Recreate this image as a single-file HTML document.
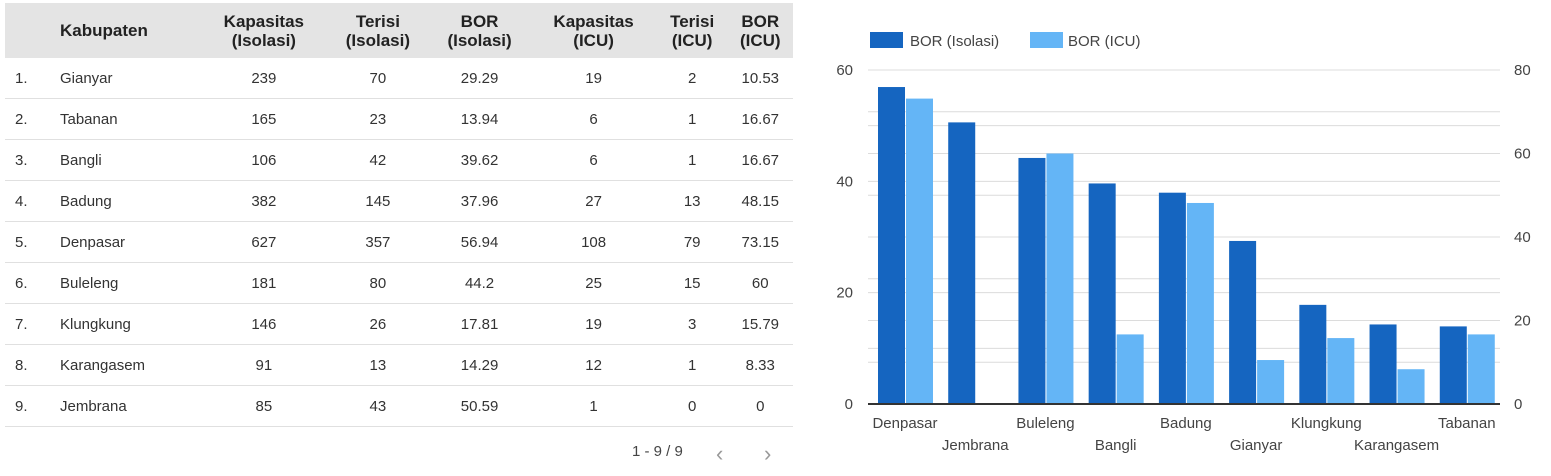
<!DOCTYPE html>
<html><head><meta charset="utf-8"><style>
body{margin:0;width:1551px;height:476px;background:#fff;font-family:"Liberation Sans",sans-serif;color:#333;overflow:hidden;position:relative}
table{position:absolute;left:5px;top:3px;width:788px;border-collapse:collapse;font-size:15px}
th{background:#e4e4e4;font-weight:bold;font-size:17px;height:53px;line-height:19px;color:#222;text-align:center}
td{height:38px;border-bottom:1px solid #e0e0e0;text-align:center;color:#333}
td.n{text-align:left;padding-left:10px;width:36px}
td.k,th.k{text-align:left;padding-left:8px}
#pg{position:absolute;left:632px;top:443px;font-size:15px;color:#444}
.chev{position:absolute;top:441px;font-size:22px;color:#999}
</style></head><body>
<table>
<thead><tr><th style="width:36px"></th><th class="k">Kabupaten</th><th>Kapasitas<br>(Isolasi)</th><th>Terisi<br>(Isolasi)</th><th>BOR<br>(Isolasi)</th><th>Kapasitas<br>(ICU)</th><th>Terisi<br>(ICU)</th><th>BOR<br>(ICU)</th></tr></thead>
<tbody>
<tr><td class="n">1.</td><td class="k">Gianyar</td><td>239</td><td>70</td><td>29.29</td><td>19</td><td>2</td><td>10.53</td></tr>
<tr><td class="n">2.</td><td class="k">Tabanan</td><td>165</td><td>23</td><td>13.94</td><td>6</td><td>1</td><td>16.67</td></tr>
<tr><td class="n">3.</td><td class="k">Bangli</td><td>106</td><td>42</td><td>39.62</td><td>6</td><td>1</td><td>16.67</td></tr>
<tr><td class="n">4.</td><td class="k">Badung</td><td>382</td><td>145</td><td>37.96</td><td>27</td><td>13</td><td>48.15</td></tr>
<tr><td class="n">5.</td><td class="k">Denpasar</td><td>627</td><td>357</td><td>56.94</td><td>108</td><td>79</td><td>73.15</td></tr>
<tr><td class="n">6.</td><td class="k">Buleleng</td><td>181</td><td>80</td><td>44.2</td><td>25</td><td>15</td><td>60</td></tr>
<tr><td class="n">7.</td><td class="k">Klungkung</td><td>146</td><td>26</td><td>17.81</td><td>19</td><td>3</td><td>15.79</td></tr>
<tr><td class="n">8.</td><td class="k">Karangasem</td><td>91</td><td>13</td><td>14.29</td><td>12</td><td>1</td><td>8.33</td></tr>
<tr><td class="n">9.</td><td class="k">Jembrana</td><td>85</td><td>43</td><td>50.59</td><td>1</td><td>0</td><td>0</td></tr>
</tbody></table>
<div id="pg">1 - 9 / 9</div>
<div class="chev" style="left:716px">&#8249;</div>
<div class="chev" style="left:764px">&#8250;</div>
<svg id="chart" width="1551" height="476" style="position:absolute;left:0;top:0"></svg>
<script>
const categories=["Denpasar","Jembrana","Buleleng","Bangli","Badung","Gianyar","Klungkung","Karangasem","Tabanan"];
const borIsolasi=[56.94,50.59,44.2,39.62,37.96,29.29,17.81,14.29,13.94];
const borICU=[73.15,0,60,16.67,48.15,10.53,15.79,8.33,16.67];
const leftTicks=[0,20,40,60];
const rightTicks=[0,20,40,60,80];
const svg=document.getElementById('chart');const NS='http://www.w3.org/2000/svg';
const X0=868,X1=1500,Y0=404,Y1=70,LMAX=60,RMAX=80;
const yL=v=>Y0-(v/LMAX)*(Y0-Y1);const yR=v=>Y0-(v/RMAX)*(Y0-Y1);
const band=(X1-X0)/categories.length;
function mk(t,a,txt){const e=document.createElementNS(NS,t);for(const k in a)e.setAttribute(k,a[k]);if(txt!==undefined)e.textContent=txt;svg.appendChild(e);return e;}
for(let v=10;v<=LMAX;v+=10){const l=mk('line',{x1:X0,x2:X1,y1:yL(v),y2:yL(v),stroke:'#dcdcdc','stroke-width':1});}
for(let v=10;v<=RMAX;v+=10){const l=mk('line',{x1:X0,x2:X1,y1:yR(v),y2:yR(v),stroke:'#dcdcdc','stroke-width':1});}
leftTicks.forEach(v=>{const t=mk('text',{x:853,y:yL(v)+5,'text-anchor':'end','font-size':15,fill:'#444'},v);});
rightTicks.forEach(v=>{const t=mk('text',{x:1514,y:yR(v)+5,'text-anchor':'start','font-size':15,fill:'#444'},v);});
const bw=27;
categories.forEach((c,i)=>{const gx=X0+i*band+10;
const a=mk('rect',{x:gx,y:yL(borIsolasi[i]),width:bw,height:Y0-yL(borIsolasi[i]),fill:'#1565c0'});
const b=mk('rect',{x:gx+bw+1,y:yR(borICU[i]),width:bw,height:Y0-yR(borICU[i]),fill:'#64b5f6'});
const t=mk('text',{x:gx+bw,y:i%2?450:428,'text-anchor':'middle','font-size':15,fill:'#444'},c);});
const base=mk('line',{x1:X0,x2:X1,y1:Y0,y2:Y0,stroke:'#333','stroke-width':2});
const l1=mk('rect',{x:870,y:32,width:33,height:16,fill:'#1565c0'});
const t1=mk('text',{x:910,y:46,'font-size':15,fill:'#444'},'BOR (Isolasi)');
const l2=mk('rect',{x:1030,y:32,width:33,height:16,fill:'#64b5f6'});
const t2=mk('text',{x:1068,y:46,'font-size':15,fill:'#444'},'BOR (ICU)');
</script>
</body></html>
